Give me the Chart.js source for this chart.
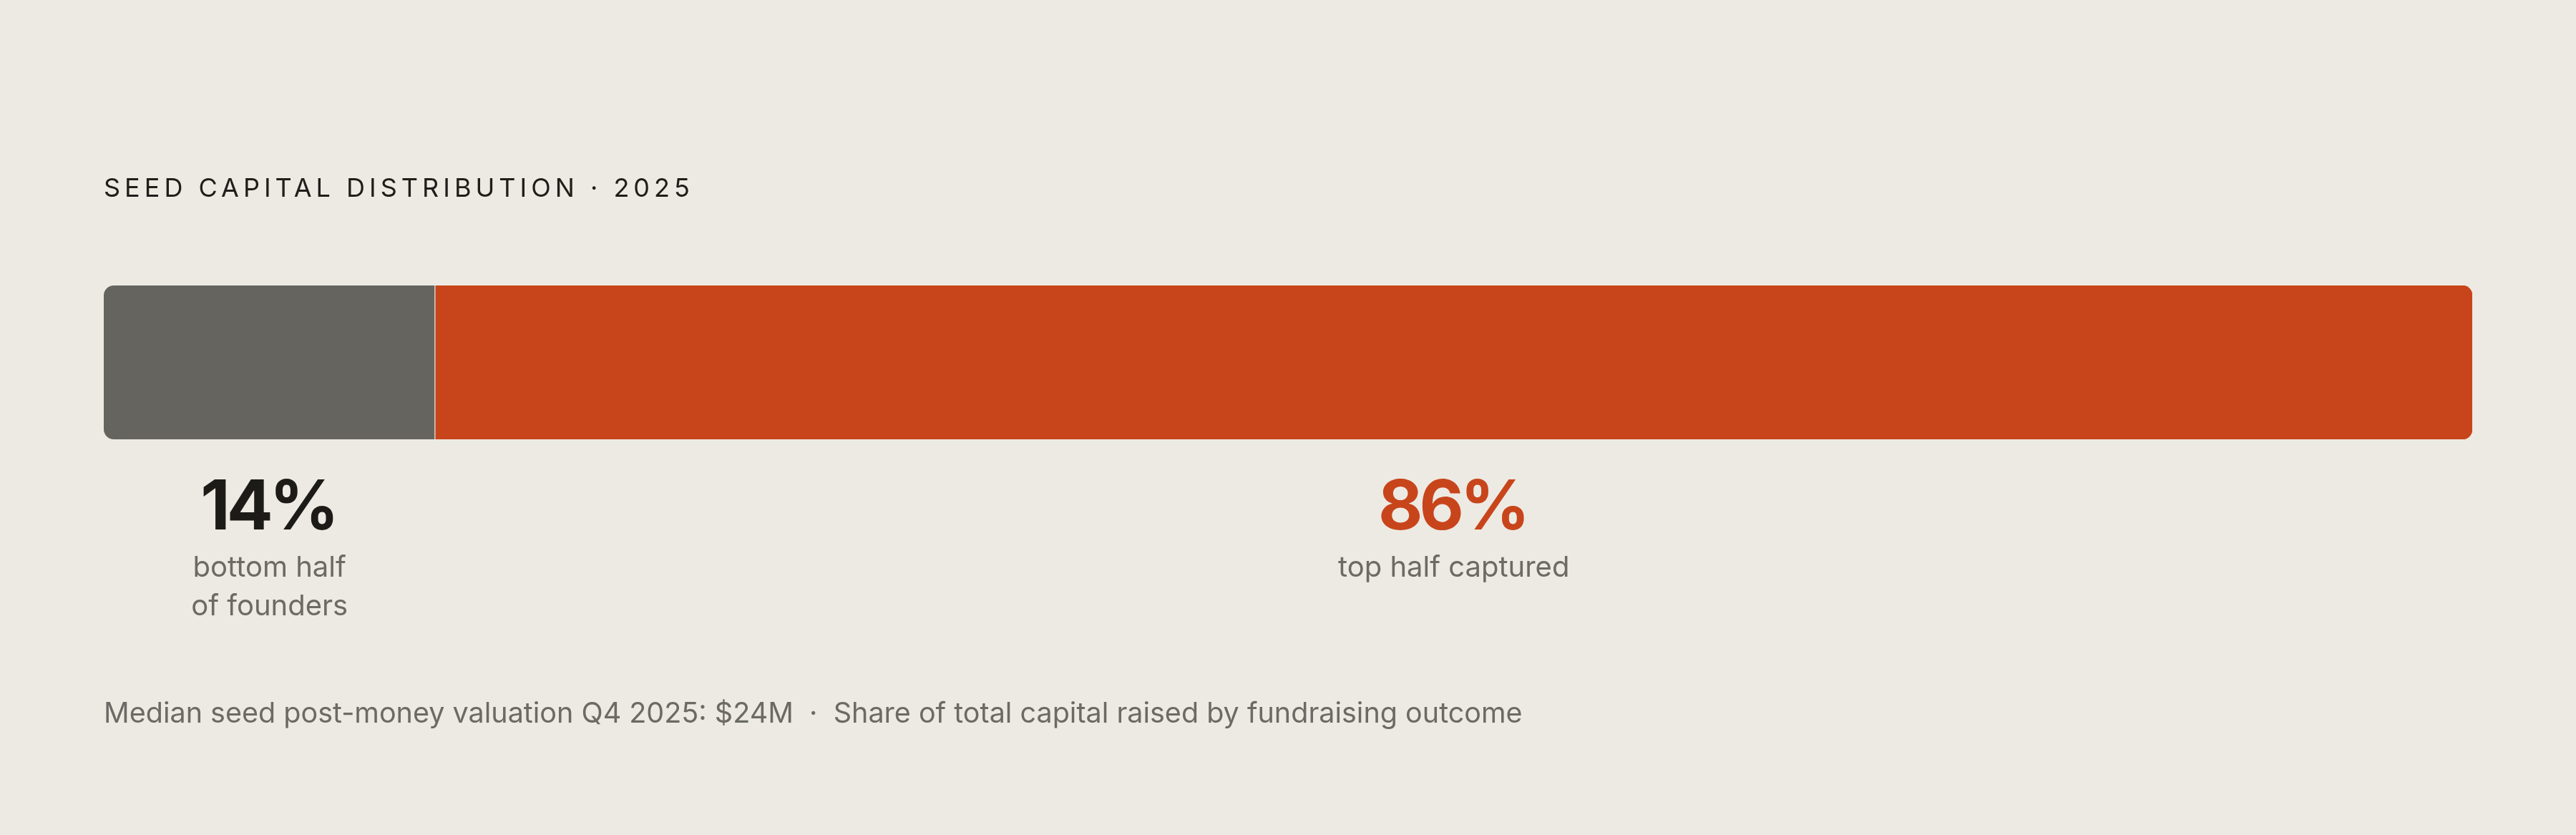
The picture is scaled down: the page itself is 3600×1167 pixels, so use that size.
<!DOCTYPE html>
<html>
<head>
<meta charset="utf-8">
<script src="https://cdn.jsdelivr.net/npm/chart.js@4"></script>
<style>
  html, body { margin: 0; padding: 0; background: #edeae3; }
  #wrap { position: relative; width: 3600px; height: 1167px; }
  #title {
    position: absolute; left: 145px; top: 240px;
    font: 400 36px Inter, sans-serif; letter-spacing: 6px;
    color: #1f1e1b; white-space: nowrap;
  }
  #note {
    position: absolute; left: 145px; top: 972px;
    font: 400 39.5px Inter, sans-serif; color: #6b6a65; white-space: nowrap;
  }
</style>
</head>
<body>
<div id="wrap">
  <canvas id="myChart"></canvas>
  <div id="title">SEED CAPITAL DISTRIBUTION · 2025</div>
  <div id="note">Median seed post-money valuation Q4 2025: $24M &nbsp;·&nbsp; Share of total capital raised by fundraising outcome</div>
</div>
<script>
/* Data */
const groups = ['Bottom half', 'Top half'];
const shares = [14, 86];
const captions = [['bottom half', 'of founders'], ['top half captured']];

const fills = ['#65645f', '#c8451b'];
const numberColors = ['#1c1b17', '#c8451b'];

/* Draw the share + caption under the middle of each segment */
const segmentLabels = {
  id: 'segmentLabels',
  afterDatasetsDraw: chart => {
    const ctx = chart.ctx;
    const bottom = chart.chartArea.bottom;
    ctx.save();
    ctx.textAlign = 'center';
    ctx.textBaseline = 'alphabetic';
    chart.data.datasets.forEach((ds, i) => {
      const bar = chart.getDatasetMeta(i).data[0];
      const cx = (bar.base + bar.x) / 2;
      ctx.fillStyle = numberColors[i];
      ctx.font = '700 96px Inter, sans-serif';
      ctx.letterSpacing = '-5px';
      ctx.fillText(shares[i] + '%', cx - 2, bottom + 126);
      ctx.letterSpacing = '0px';
      ctx.fillStyle = '#6b6a65';
      ctx.font = '400 40px Inter, sans-serif';
      captions[i].forEach((line, j) => ctx.fillText(line, cx, bottom + 192 + j * 54));
    });
    ctx.restore();
  }
};

const ctx = document.getElementById('myChart');
ctx.parentNode.style.width = '3600px';
ctx.parentNode.style.height = '1167px';

new Chart(ctx, {
  type: 'bar',
  plugins: [segmentLabels],
  data: {
    labels: ['Seed capital'],
    datasets: groups.map((g, i) => ({
      label: g,
      data: [shares[i]],
      backgroundColor: fills[i],
      borderColor: 'rgba(237, 234, 227, 0.75)',
      borderWidth: i == 0 ? {right: 1.5} : 0,
      borderSkipped: false,
      borderRadius: i == 0
        ? {topLeft: 14, bottomLeft: 14, topRight: 0, bottomRight: 0}
        : {topLeft: 0, bottomLeft: 0, topRight: 14, bottomRight: 14},
      barPercentage: 1,
      categoryPercentage: 1
    }))
  },
  options: {
    events: [],
    animation: false,
    indexAxis: 'y',
    responsive: true,
    maintainAspectRatio: false,
    devicePixelRatio: 1,
    layout: { padding: { left: 145, right: 145, top: 399, bottom: 553 } },
    plugins: { legend: false, tooltip: { enabled: false } },
    scales: {
      x: { stacked: true, min: 0, max: 100, display: false },
      y: { stacked: true, display: false }
    }
  }
});
</script>
</body>
</html>
